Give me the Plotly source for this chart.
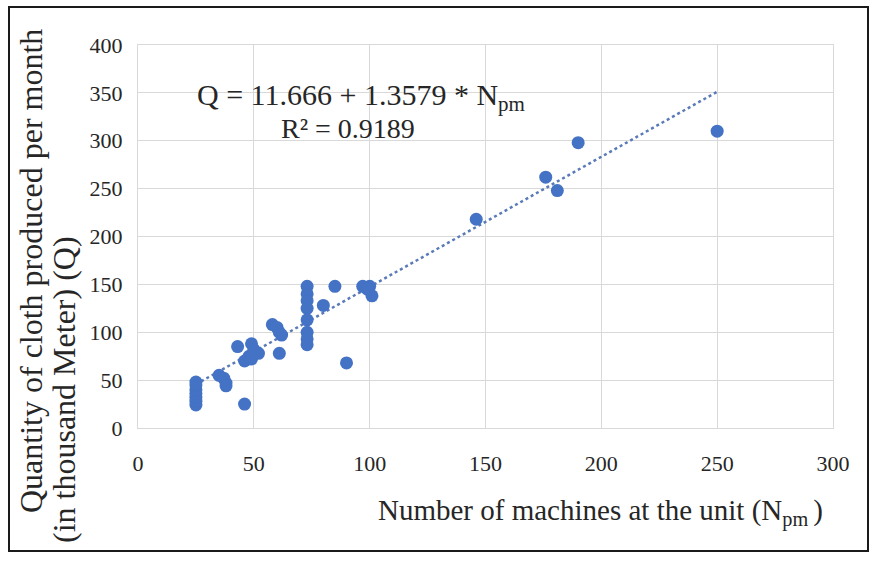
import plotly.graph_objects as go

# Data
machines = [25, 25, 25, 25, 25, 25, 25,
            35, 37, 38, 38,
            46, 43,
            46, 48, 49, 50, 52, 49,
            58, 60, 61, 62, 61,
            73, 73, 73, 73, 73, 73, 73, 73,
            80, 85, 90,
            97, 100, 101, 99,
            146, 176, 181, 190, 250]
quantity = [24, 28, 32, 36, 40, 45, 48,
            55, 52, 47, 44,
            25, 85,
            70, 75, 88, 82, 78, 72,
            108, 105, 100, 97, 78,
            148, 140, 133, 125, 113, 100, 93, 87,
            128, 148, 68,
            148, 148, 138, 145,
            218, 262, 248, 298, 310]

intercept = 11.666
slope = 1.3579
r2 = 0.9189
trend_x = [min(machines), max(machines)]
trend_y = [intercept + slope * v for v in trend_x]

x_ticks = [0, 50, 100, 150, 200, 250, 300]
y_ticks = [0, 50, 100, 150, 200, 250, 300, 350, 400]

SERIF = "Liberation Serif, serif"
BLUE = "#4472C4"
TXT = "#262626"

fig = go.Figure()
fig.add_trace(go.Scatter(x=trend_x, y=trend_y, mode="lines",
                         line=dict(color="#5a7ab8", width=2.5, dash="dot"),
                         hoverinfo="skip", showlegend=False))
fig.add_trace(go.Scatter(x=machines, y=quantity, mode="markers",
                         marker=dict(color=BLUE, size=13, line=dict(width=0)),
                         showlegend=False))

L, R, T, B = 138, 38, 45, 135
W, H = 871, 563
pw, ph = W - L - R, H - T - B

def px(xp):
    return (xp - L) / pw

def py(yp):
    return (H - B - yp) / ph

fig.update_layout(
    width=W, height=H,
    margin=dict(l=L, r=R, t=T, b=B),
    paper_bgcolor="white", plot_bgcolor="white",
    font=dict(family=SERIF, color=TXT),
    xaxis=dict(range=[0, 300], tickvals=x_ticks, showgrid=True,
               gridcolor="#d9d9d9", gridwidth=1, zeroline=False,
               showline=True, linecolor="#d9d9d9", linewidth=1, mirror=True,
               tickfont=dict(size=22, family=SERIF, color=TXT),
               ticklabelstandoff=16),
    yaxis=dict(range=[0, 400], tickvals=y_ticks, showgrid=True,
               gridcolor="#d9d9d9", gridwidth=1, zeroline=False,
               showline=True, linecolor="#d9d9d9", linewidth=1, mirror=True,
               tickfont=dict(size=22, family=SERIF, color=TXT),
               ticklabelstandoff=10),
    annotations=[
        dict(x=96.2, y=345.7, xref="x", yref="y", showarrow=False,
             text="Q = 11.666 + 1.3579 * N<sub>pm</sub>",
             font=dict(size=30, family=SERIF, color=TXT)),
        dict(x=90.6, y=313, xref="x", yref="y", showarrow=False,
             text="R² = %.4f" % r2,
             font=dict(size=28, family=SERIF, color=TXT)),
        dict(x=px(600), y=py(512), xref="paper", yref="paper", showarrow=False,
             xanchor="center", yanchor="middle",
             text="Number of machines at the unit (N<sub>pm </sub>)",
             font=dict(size=29, family=SERIF, color=TXT)),
        dict(x=px(31), y=py(271), xref="paper", yref="paper", showarrow=False,
             xanchor="center", yanchor="middle", textangle=-90,
             text="Quantity of cloth produced per month",
             font=dict(size=32, family=SERIF, color=TXT)),
        dict(x=px(64), y=py(390), xref="paper", yref="paper", showarrow=False,
             xanchor="center", yanchor="middle", textangle=-90,
             text="(in thousand Meter) (Q)",
             font=dict(size=32, family=SERIF, color=TXT)),
    ],
    shapes=[
        dict(type="rect", xref="paper", yref="paper",
             x0=px(9), x1=px(868), y0=py(551), y1=py(7),
             line=dict(color="#1a1a1a", width=2), fillcolor="rgba(0,0,0,0)"),
    ],
)

fig.write_html("out.html")
